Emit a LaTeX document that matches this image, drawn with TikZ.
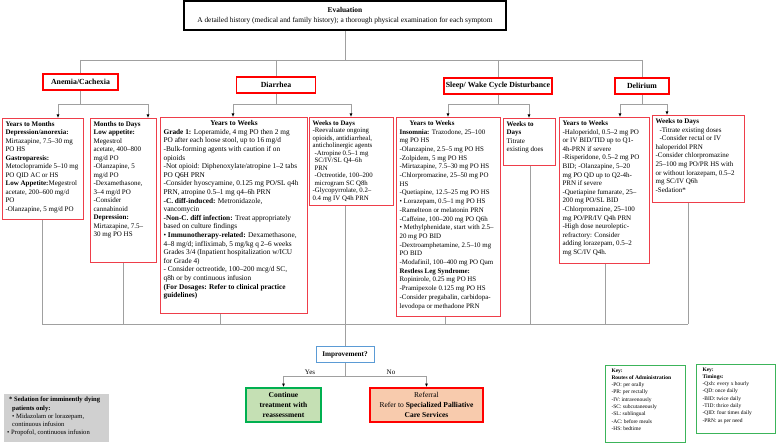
\documentclass[tikz,border=0pt]{standalone}
\usepackage{fontspec}
\setmainfont{Liberation Serif}
\usepackage{xcolor}
\usetikzlibrary{arrows.meta}

\definecolor{catred}{RGB}{255,0,0}
\definecolor{boxred}{RGB}{238,62,74}
\definecolor{linegray}{RGB}{160,160,160}
\definecolor{imprblue}{RGB}{91,155,213}
\definecolor{contgreen}{RGB}{0,176,80}
\definecolor{contfill}{RGB}{197,224,180}
\definecolor{refrfill}{RGB}{248,203,173}
\definecolor{sedgray}{RGB}{208,208,208}
\definecolor{keygreen}{RGB}{60,180,90}

% top aligned text block of fixed size: width, height, text
\newcommand{\boxtext}[3]{\parbox[t][#2pt][t]{#1pt}{\raggedright #3}}

\begin{document}
\begin{tikzpicture}[x=1pt,y=1pt,yscale=-1,xscale=1,
  conn/.style={draw=linegray,line width=0.8},
  arr/.style={conn,-{Latex[length=3.5pt,width=3pt,color=black]}},
  catbox/.style={draw=catred,line width=1.8,fill=white,inner sep=0pt,font=\fontsize{7.8}{9}\selectfont\bfseries},
  txtbox/.style={draw=boxred,line width=1.2,fill=white,inner sep=3pt,anchor=north west,font=\fontsize{7}{8.5}\selectfont},
  keybox/.style={draw=keygreen,line width=1,inner xsep=6pt,inner ysep=3pt,anchor=north west,font=\fontsize{5.5}{7.3}\selectfont},
  endbox/.style={line width=1.8,inner sep=0pt,align=center,font=\fontsize{7.5}{10}\selectfont},
  lbl/.style={inner sep=0pt,font=\fontsize{7}{8}\selectfont}]

\useasboundingbox (0,0) rectangle (777,443);

% Evaluation
\node[draw=black,line width=1.8,minimum width=322,minimum height=29,inner sep=0pt,align=center,font=\fontsize{7.4}{10}\selectfont] (eval) at (345,15.5) {\textbf{Evaluation}\\A detailed history (medical and family history); a thorough physical examination for each symptom};

% Symptoms
\node[catbox,minimum width=75,minimum height=16] (anem) at (80.5,82) {Anemia/Cachexia};
\node[catbox,minimum width=79,minimum height=16] (diar) at (276,85) {Diarrhea};
\node[catbox,minimum width=108,minimum height=16] (sleep) at (498,86) {Sleep/ Wake Cycle Disturbance};
\node[catbox,minimum width=54,minimum height=16] (deli) at (642,86) {Delirium};

% Anemia boxes
\node[txtbox] (anYM) at (2,118) {\boxtext{75}{95}{%
\textbf{Years to Months}\\
\textbf{Depression/anorexia:}\\
Mirtazapine, 7.5–30 mg\\
PO HS\\
\textbf{Gastroparesis:}\\
Metoclopramide 5–10 mg\\
PO QID AC or HS\\
\textbf{Low Appetite:}Megestrol\\
acetate, 200–600 mg/d\\
PO\\
-Olanzapine, 5 mg/d PO}};
\node[txtbox] (anMD) at (90,118) {\boxtext{60}{138}{%
\textbf{Months to Days}\\
\textbf{Low appetite:}\\
Megestrol\\
acetate, 400–800\\
mg/d PO\\
-Olanzapine, 5\\
mg/d PO\\
-Dexamethasone,\\
3–4 mg/d PO\\
-Consider\\
cannabinoid\\
\textbf{Depression:}\\
Mirtazapine, 7.5–\\
30 mg PO HS}};

% Diarrhea boxes
\node[txtbox,font=\fontsize{7.3}{8.6}\selectfont] (diYW) at (160,117) {\boxtext{141}{190}{%
\makebox[\linewidth]{\textbf{Years to Weeks}}\\
\textbf{Grade 1:} Loperamide, 4 mg PO then 2 mg\\
PO after each loose stool, up to 16 mg/d\\
-Bulk-forming agents with caution if on\\
opioids\\
-Not opioid: Diphenoxylate/atropine 1–2 tabs\\
PO Q6H PRN\\
-Consider hyoscyamine, 0.125 mg PO/SL q4h\\
PRN, atropine 0.5–1 mg q4–6h PRN\\
\textbf{-C. diff-induced:} Metronidazole,\\
vancomycin\\
\textbf{-Non-C. diff infection:} Treat appropriately\\
based on culture findings\\
• \textbf{Immunotherapy-related:} Dexamethasone,\\
4–8 mg/d; infliximab, 5 mg/kg q 2–6 weeks\\
Grades 3/4 (Inpatient hospitalization w/ICU\\
for Grade 4)\\
- Consider octreotide, 100–200 mcg/d SC,\\
q8h or by continuous infusion\\
\textbf{(For Dosages: Refer to clinical practice}\\
\textbf{guidelines)}}};
\node[txtbox,font=\fontsize{6.8}{7.5}\selectfont] (diWD) at (309,117) {\boxtext{78}{82}{%
\textbf{Weeks to Days}\\
-Reevaluate ongoing\\
opioids, antidiarrheal,\\
anticholinergic agents\\
\hspace*{2pt}-Atropine 0.5–1 mg\\
\hspace*{2pt}SC/IV/SL Q4–6h\\
\hspace*{2pt}PRN\\
\hspace*{2pt}-Octreotide, 100–200\\
\hspace*{2pt}microgram SC Q8h\\
-Glycopyrrolate, 0.2–\\
0.4 mg IV Q4h PRN}};

% Sleep boxes
\node[txtbox,font=\fontsize{6.9}{8.7}\selectfont] (slYW) at (396,117) {\boxtext{98}{193}{%
\hspace*{10pt}\textbf{Years to Weeks}\\
\textbf{Insomnia:} Trazodone, 25–100\\
mg PO HS\\
-Olanzapine, 2.5–5 mg PO HS\\
-Zolpidem, 5 mg PO HS\\
-Mirtazapine, 7.5–30 mg PO HS\\
-Chlorpromazine, 25–50 mg PO\\
HS\\
-Quetiapine, 12.5–25 mg PO HS\\
• Lorazepam, 0.5–1 mg PO HS\\
-Ramelteon or melatonin PRN\\
-Caffeine, 100–200 mg PO Q6h\\
• Methylphenidate, start with 2.5–\\
20 mg PO BID\\
-Dextroamphetamine, 2.5–10 mg\\
PO BID\\
-Modafinil, 100–400 mg PO Qam\\
\textbf{Restless Leg Syndrome:}\\
Ropinirole, 0.25 mg PO HS\\
-Pramipexole 0.125 mg PO HS\\
-Consider pregabalin, carbidopa-\\
levodopa or methadone PRN}};
\node[txtbox] (slWD) at (503,118) {\boxtext{46}{41}{%
\textbf{Weeks to}\\
\textbf{Days}\\
Titrate\\
existing does}};

% Delirium boxes
\node[txtbox,font=\fontsize{7}{8.6}\selectfont] (deYW) at (559,117) {\boxtext{84}{140}{%
\textbf{Years to Weeks}\\
-Haloperidol, 0.5–2 mg PO\\
or IV BID/TID up to Q1-\\
4h-PRN if severe\\
-Risperidone, 0.5–2 mg PO\\
BID; -Olanzapine, 5–20\\
mg PO QD up to Q2-4h-\\
PRN if severe\\
-Quetiapine fumarate, 25–\\
200 mg PO/SL BID\\
-Chlorpromazine, 25–100\\
mg PO/PR/IV Q4h PRN\\
-High dose neuroleptic-\\
refractory: Consider\\
adding lorazepam, 0.5–2\\
mg SC/IV Q4h.}};
\node[txtbox,font=\fontsize{7}{8.6}\selectfont] (deWD) at (652,115) {\boxtext{86}{81}{%
\textbf{Weeks to Days}\\
\hspace*{4pt}-Titrate existing doses\\
\hspace*{4pt}-Consider rectal or IV\\
haloperidol PRN\\
-Consider chlorpromazine\\
25–100 mg PO/PR HS with\\
or without lorazepam, 0.5–2\\
mg SC/IV Q6h\\
-Sedation*}};

% Outcome boxes
\node[draw=imprblue,line width=1,fill=white,minimum width=58,minimum height=16,inner sep=0pt,font=\fontsize{7.2}{8}\selectfont\bfseries] (impr) at (345,355) {Improvement?};
\node[endbox,draw=contgreen,fill=contfill,minimum width=75,minimum height=34] (cont) at (283.5,405) {\textbf{Continue}\\\textbf{treatment with}\\\textbf{reassessment}};
\node[endbox,draw=catred,fill=refrfill,minimum width=113,minimum height=34] (refr) at (426.5,405) {Referral\\Refer to \textbf{Specialized Palliative}\\\textbf{Care Services}};

% Notes and keys
\node[fill=sedgray,inner sep=3pt,anchor=north west,font=\fontsize{6.6}{8.2}\selectfont] (sed) at (4,394) {\boxtext{99}{42}{%
\hspace*{2pt}\textbf{* Sedation for imminently dying}\\
\hspace*{5pt}\textbf{patients only:}\\
\hspace*{5pt}• Midazolam or lorazepam,\\
\hspace*{5pt}continuous infusion\\
• Propofol, continuous infusion}};
\node[keybox] (keyA) at (605,365) {\boxtext{68}{71}{%
\textbf{Key:}\\
\textbf{Routes of Administration}\\
-PO: per orally\\
-PR: per rectally\\
-IV: intravenously\\
-SC: subcutaneously\\
-SL: sublingual\\
-AC: before meals\\
-HS: bedtime}};
\node[keybox] (keyB) at (696,364) {\boxtext{67}{63}{%
\textbf{Key:}\\
\textbf{Timings:}\\
-Qxh: every x hourly\\
-QD: once daily\\
-BID: twice daily\\
-TID: thrice daily\\
-QID: four times daily\\
-PRN: as per need}};

%Straight Lines: evaluation to symptoms
\draw[conn] (eval.south) -- (eval.south |- 0,60);
\draw[conn] (anem.north |- 0,60) -- (deli.north |- 0,60);
\foreach \c in {anem,diar,sleep,deli}
  \draw[conn] (\c.north |- 0,60) -- (\c.north);

%Straight Lines: symptoms to time frames
\foreach \c/\l/\r/\bl/\br in {anem/58/148/anYM/anMD, diar/233/351/diYW/diWD, sleep/448/529/slYW/slWD, deli/620/667/deYW/deWD}{
  \draw[conn] (\c.south) -- (\c.south |- 0,104);
  \draw[conn] (\l,104) -- (\r,104);
  \draw[arr] (\l,104) -- (\bl.north -| \l,0);
  \draw[arr] (\r,104) -- (\br.north -| \r,0);
}

%Straight Lines: time frames to improvement
\foreach \b/\x in {anYM/42,anMD/123,diYW/220,diWD/345,slYW/445,slWD/530,deYW/605,deWD/688}
  \draw[conn] (\b.south -| \x,0) -- (\x,324);
\draw[conn] (42,324) -- (688,324);
\draw[conn] (impr.north |- 0,324) -- (impr.north);

%Straight Lines: improvement to outcomes
\draw[conn] (impr.south) -- (impr.south |- 0,376);
\draw[conn] (cont.north |- 0,376) -- (refr.north |- 0,376);
\draw[arr] (cont.north |- 0,376) -- (cont.north);
\draw[arr] (refr.north |- 0,376) -- (refr.north);
\node[lbl,anchor=south] (yes) at (310,374.5) {Yes};
\node[lbl,anchor=south] (no) at (391,374.5) {No};

\end{tikzpicture}
\end{document}
